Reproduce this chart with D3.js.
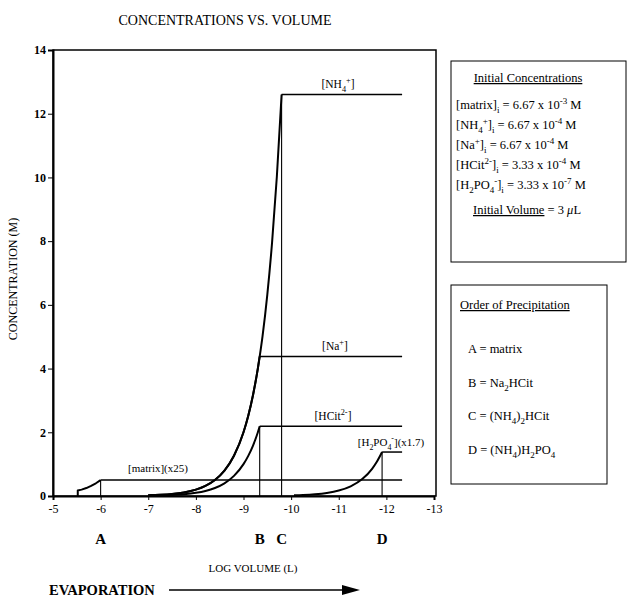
<!DOCTYPE html>
<html>
<head>
<meta charset="utf-8">
<script src="https://cdn.jsdelivr.net/npm/d3@7"></script>
<style>
  html, body { margin: 0; padding: 0; background: #fff; }
  svg { display: block; font-family: "Liberation Serif", "Times New Roman", serif; }
</style>
</head>
<body>
<svg id="chart" width="628" height="598"></svg>
<script>
// Concentration (M) against log volume (L) while the droplet evaporates.
const nh4Curve = [[-7.0, 0.02], [-7.25, 0.036], [-7.5, 0.063], [-7.75, 0.113], [-8.0, 0.2], [-8.2, 0.317],
  [-8.4, 0.502], [-8.6, 0.796], [-8.8, 1.262], [-9.0, 2.0], [-9.1, 2.52], [-9.2, 3.17], [-9.3, 3.99],
  [-9.34, 4.38], [-9.4, 5.02], [-9.5, 6.32], [-9.6, 7.96], [-9.7, 10.02], [-9.8, 12.6]];
const naCurve = [[-7.0, 0.02], [-7.25, 0.036], [-7.5, 0.063], [-7.75, 0.113], [-8.0, 0.2], [-8.2, 0.317],
  [-8.4, 0.502], [-8.6, 0.796], [-8.8, 1.262], [-9.0, 2.0], [-9.1, 2.52], [-9.2, 3.17], [-9.3, 3.99],
  [-9.34, 4.38]];
const hcitCurve = [[-7.0, 0.01], [-7.25, 0.018], [-7.5, 0.032], [-7.75, 0.056], [-8.0, 0.1], [-8.2, 0.158],
  [-8.4, 0.251], [-8.6, 0.398], [-8.8, 0.631], [-9.0, 1.0], [-9.1, 1.26], [-9.2, 1.585], [-9.3, 1.995],
  [-9.34, 2.19]];
const h2po4Curve = [[-10.06, 0.02], [-10.25, 0.03], [-10.5, 0.054], [-10.75, 0.096], [-11.0, 0.17],
  [-11.25, 0.302], [-11.5, 0.538], [-11.7, 0.853], [-11.8, 1.074], [-11.91, 1.38]];
const matrixCurve = [[-5.52, 0], [-5.52, 0.17], [-5.6, 0.2], [-5.7, 0.25], [-5.8, 0.32], [-5.9, 0.4], [-6.0, 0.5]];

// Each curve levels off at its final value until the end of the run.
const plateauEnd = -12.33;

// Precipitation points: letter, log volume and the plateau the drop line reaches.
const precipLetters = ["A", "B", "C", "D"];
const precipLogV = [-6.0, -9.34, -9.8, -11.91];
const precipTop = [0.5, 2.19, 12.6, 1.38];

const xTicks = [-5, -6, -7, -8, -9, -10, -11, -12, -13];
const xTickLabels = ["-5", "-6", "-7", "-8", "-9", "-10", "-11", "-12", "-13"];
const yTicks = [0, 2, 4, 6, 8, 10, 12, 14];
const yTickLabels = ["0", "2", "4", "6", "8", "10", "12", "14"];

const svg = d3.select("#chart");
const x = d3.scaleLinear().domain([-5, -13]).range([53, 434]);
const y = d3.scaleLinear().domain([0, 14]).range([496, 50]);

// rich text helper: segments may be sub- or superscript
function rich(parent, px, py, segs, size, anchor, extra) {
  const t = parent.append("text").attr("x", px).attr("y", py)
    .attr("font-size", size).attr("text-anchor", anchor || "start").attr("fill", "#000");
  if (extra) extra(t);
  let cur = 0;
  segs.forEach(s => {
    const seg = typeof s === "string" ? { t: s } : s;
    let target = 0, fs = size;
    if (seg.s === "sub") { target = size * 0.32; fs = size * 0.72; }
    if (seg.s === "sup") { target = -size * 0.42; fs = size * 0.72; }
    t.append("tspan").attr("dy", target - cur).attr("font-size", fs).text(seg.t);
    cur = target;
  });
  return t;
}

// title
svg.append("text").attr("x", 225).attr("y", 25).attr("text-anchor", "middle")
  .attr("font-size", 14).text("CONCENTRATIONS VS. VOLUME");

// plot frame
svg.append("rect").attr("x", x(-5)).attr("y", y(14)).attr("width", 436 - x(-5)).attr("height", y(0) - y(14))
  .attr("fill", "none").attr("stroke", "#000").attr("stroke-width", 1.5);

const yAxis = svg.append("g").attr("transform", `translate(${x(-5)},0)`)
  .call(d3.axisLeft(y).tickValues(yTicks).tickSize(5).tickPadding(2)
    .tickFormat((d, i) => yTickLabels[i]));
yAxis.select(".domain").attr("stroke-width", 2);
yAxis.selectAll("text").attr("font-size", 12).attr("font-weight", "bold")
  .attr("font-family", "Liberation Serif, serif");

const xAxis = svg.append("g").attr("transform", `translate(0,${y(0)})`)
  .call(d3.axisBottom(x).tickValues(xTicks).tickSize(4).tickPadding(4)
    .tickFormat((d, i) => xTickLabels[i]));
xAxis.select(".domain").attr("stroke-width", 2);
xAxis.selectAll("text").attr("font-size", 12).attr("font-family", "Liberation Serif, serif");

// axis titles
svg.append("text").attr("transform", "translate(17,279) rotate(-90)").attr("text-anchor", "middle")
  .attr("font-size", 12).text("CONCENTRATION (M)");
svg.append("text").attr("x", 253).attr("y", 572).attr("text-anchor", "middle")
  .attr("font-size", 11).text("LOG VOLUME (L)");

// precipitation drop lines and letters
precipLogV.forEach((v, i) => {
  svg.append("line").attr("x1", x(v)).attr("x2", x(v)).attr("y1", y(0)).attr("y2", y(precipTop[i]))
    .attr("stroke", "#000").attr("stroke-width", 1.1);
  svg.append("text").attr("x", x(v)).attr("y", 544).attr("text-anchor", "middle")
    .attr("font-size", 15).attr("font-weight", "bold").text(precipLetters[i]);
});

// curves and plateaus
const smooth = d3.line().x(d => x(d[0])).y(d => y(d[1])).curve(d3.curveMonotoneX);
const straight = d3.line().x(d => x(d[0])).y(d => y(d[1]));
[nh4Curve, naCurve, hcitCurve, h2po4Curve, matrixCurve].forEach(c => {
  const last = c[c.length - 1];
  svg.append("path").attr("d", straight([last, [plateauEnd, last[1]]]))
    .attr("fill", "none").attr("stroke", "#000").attr("stroke-width", 1.5);
});
[nh4Curve, naCurve, hcitCurve, h2po4Curve].forEach(c => {
  svg.append("path").attr("d", smooth(c)).attr("fill", "none").attr("stroke", "#000")
    .attr("stroke-width", 2).attr("stroke-linejoin", "round");
});
svg.append("path").attr("d", straight(matrixCurve)).attr("fill", "none").attr("stroke", "#000")
  .attr("stroke-width", 2).attr("stroke-linejoin", "round");

// series labels
rich(svg, 338, 88, ["[NH", { t: "4", s: "sub" }, { t: "+", s: "sup" }, "]"], 11.5, "middle");
rich(svg, 335, 350, ["[Na", { t: "+", s: "sup" }, "]"], 11.5, "middle");
rich(svg, 333, 420, ["[HCit", { t: "2-", s: "sup" }, "]"], 11.5, "middle");
rich(svg, 391, 446, ["[H", { t: "2", s: "sub" }, "PO", { t: "4", s: "sub" }, { t: "-", s: "sup" }, "](x1.7)"], 11, "middle");
rich(svg, 158, 472, ["[matrix](x25)"], 11, "middle");

// evaporation arrow
svg.append("text").attr("x", 49).attr("y", 595).attr("font-size", 14.5).attr("font-weight", "bold")
  .text("EVAPORATION");
svg.append("line").attr("x1", 169).attr("x2", 344).attr("y1", 590).attr("y2", 590)
  .attr("stroke", "#000").attr("stroke-width", 1.5);
svg.append("path").attr("d", "M342,585 L360,590 L342,595 Z").attr("fill", "#000");

// initial concentrations box
svg.append("rect").attr("x", 451).attr("y", 61).attr("width", 175).attr("height", 201)
  .attr("fill", "none").attr("stroke", "#000").attr("stroke-width", 1);
rich(svg, 528, 82, ["Initial Concentrations"], 12.5, "middle", t => t.attr("text-decoration", "underline"));
const initRows = [
  ["[matrix]", { t: "i", s: "sub" }, " = 6.67 x 10", { t: "-3", s: "sup" }, " M"],
  ["[NH", { t: "4", s: "sub" }, { t: "+", s: "sup" }, "]", { t: "i", s: "sub" }, " = 6.67 x 10", { t: "-4", s: "sup" }, " M"],
  ["[Na", { t: "+", s: "sup" }, "]", { t: "i", s: "sub" }, " = 6.67 x 10", { t: "-4", s: "sup" }, " M"],
  ["[HCit", { t: "2-", s: "sup" }, "]", { t: "i", s: "sub" }, " = 3.33 x 10", { t: "-4", s: "sup" }, " M"],
  ["[H", { t: "2", s: "sub" }, "PO", { t: "4", s: "sub" }, { t: "-", s: "sup" }, "]", { t: "i", s: "sub" }, " = 3.33 x 10", { t: "-7", s: "sup" }, " M"]
];
initRows.forEach((r, i) => rich(svg, 456, 109 + i * 20, r, 12.5, "start"));
const iv = svg.append("text").attr("x", 473).attr("y", 214).attr("font-size", 12.5);
iv.append("tspan").attr("text-decoration", "underline").text("Initial Volume");
iv.append("tspan").text(" = 3 ");
iv.append("tspan").attr("font-style", "italic").text("\u03bc");
iv.append("tspan").text("L");

// order of precipitation box
svg.append("rect").attr("x", 451).attr("y", 285).attr("width", 156).attr("height", 199)
  .attr("fill", "none").attr("stroke", "#000").attr("stroke-width", 1);
rich(svg, 460, 309, ["Order of Precipitation"], 12.5, "start", t => t.attr("text-decoration", "underline"));
const orderRows = [
  ["A = matrix"],
  ["B = Na", { t: "2", s: "sub" }, "HCit"],
  ["C = (NH", { t: "4", s: "sub" }, ")", { t: "2", s: "sub" }, "HCit"],
  ["D = (NH", { t: "4", s: "sub" }, ")H", { t: "2", s: "sub" }, "PO", { t: "4", s: "sub" }]
];
orderRows.forEach((r, i) => rich(svg, 468, 353 + i * 33.5, r, 12.5, "start"));
</script>
</body>
</html>
